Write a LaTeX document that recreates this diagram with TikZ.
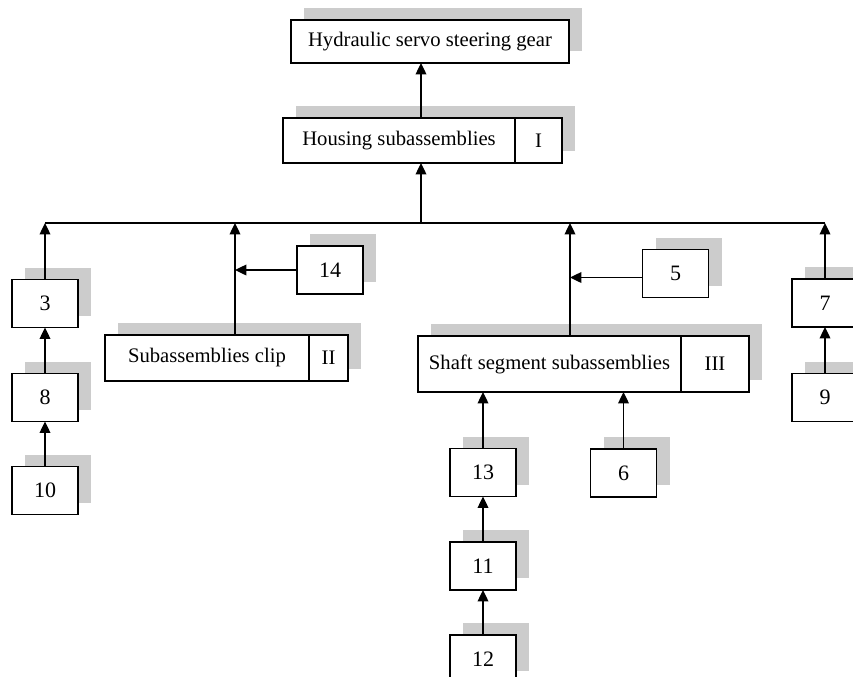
\documentclass[tikz,border=0pt]{standalone}
\usepackage{fontspec}
\setmainfont{Liberation Serif}
\usetikzlibrary{arrows.meta,shadows}
\newcommand{\px}{0.75pt}

\begin{document}
\begin{tikzpicture}[x=0.75pt,y=-0.75pt,
		>={Triangle[width=8pt,length=8.5pt]},
		box/.style={draw,line width=1.1pt,fill=white,inner sep=0pt,outer sep=0pt,
			font=\fontsize{15.5}{18}\selectfont,
			drop shadow={shadow xshift=9.75pt,shadow yshift=9pt,fill=black!20,opacity=1}},
		link/.style={->,line width=1pt}]
		\useasboundingbox (0,0) rectangle (853,676);
		\clip (0,0) rectangle (853,676);
		% assemblies
		\node[box,minimum width=278*\px,minimum height=43*\px] (gear) at (430,41.5) {Hydraulic servo steering gear};
		\node[box,minimum width=232*\px,minimum height=45*\px] (housing) at (399,140.5) {Housing subassemblies};
		\node[box,minimum width=47*\px,minimum height=45*\px,anchor=west] (housingno) at (housing.east) {I};
		\node[box,minimum width=204*\px,minimum height=46*\px] (clip) at (207,358) {Subassemblies clip};
		\node[box,minimum width=39*\px,minimum height=46*\px,anchor=west] (clipno) at (clip.east) {II};
		\node[box,minimum width=263*\px,minimum height=56*\px] (shaft) at (549.5,364) {Shaft segment subassemblies};
		\node[box,minimum width=68*\px,minimum height=56*\px,anchor=west] (shaftno) at (shaft.east) {III};
		% parts
		\foreach \n/\x/\y in {3/45/303.5,8/45/397.5,10/45/490.5,14/330/270,5/675.5/273.5,
			13/483/472.5,11/483/566,12/483/659,6/623.5/473,7/825/303,9/825/397.5}{
			\node[box,minimum width=66*\px,minimum height=48*\px,font=\fontsize{16.5}{18}\selectfont] (b\n) at (\x,\y) {\n};
		}
		% connections
		\coordinate (bus) at (421,223);
		\coordinate (jclip) at (235,223);
		\coordinate (jshaft) at (570,223);
		\draw[line width=1pt] (b3.north |- bus) -- (b7.north |- bus);
		\draw[link] (bus) -- (bus |- housing.south);
		\draw[link] (bus |- housing.north) -- (bus |- gear.south);
		\foreach \a in {3,7}
			\draw[link] (b\a.north) -- (b\a.north |- bus);
		\draw[link] (jclip |- clip.north) -- (jclip);
		\draw[link] (jshaft |- shaft.north) -- (jshaft);
		\draw[link] (b14.west) -- (b14.west -| jclip);
		\draw[link] ([yshift=-3pt]b5.west) -- ([yshift=-3pt]b5.west -| jshaft);
		\foreach \a/\b in {10/8,8/3,12/11,11/13,9/7}
			\draw[link] (b\a) -- (b\b);
		\foreach \a in {13,6}
			\draw[link] (b\a) -- (b\a |- shaft.south);
	\end{tikzpicture}
\end{document}
